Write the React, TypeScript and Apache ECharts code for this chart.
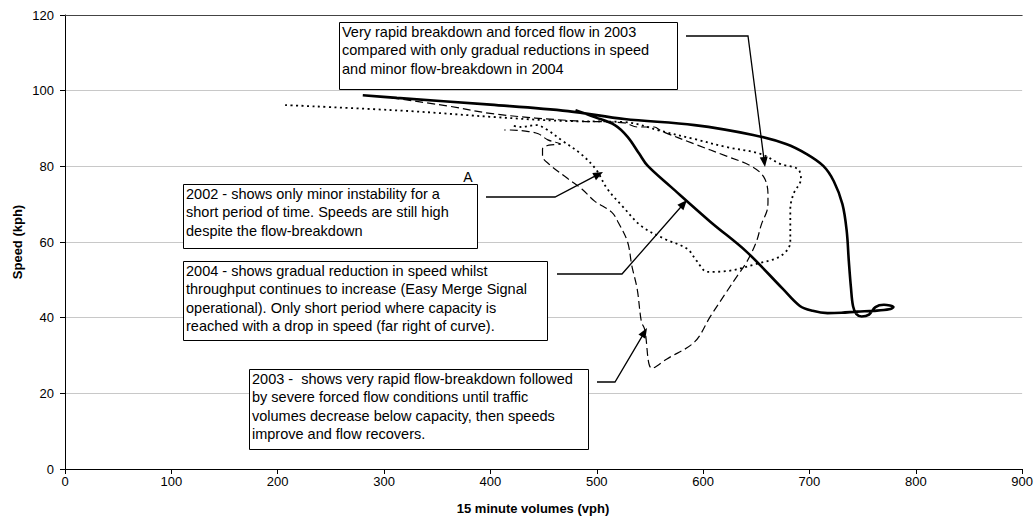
import React, { useEffect, useRef } from "react";
import * as echarts from "echarts";

// ---- Data ----
const xTicks = [0, 100, 200, 300, 400, 500, 600, 700, 800, 900];
const yTicks = [0, 20, 40, 60, 80, 100, 120];

// 2004 - thick solid
const vol2004 = [280, 312, 400, 473, 526, 592, 647, 678, 697, 713, 723, 731, 735, 737, 739, 741, 744, 749, 756, 762, 770, 779, 775, 760, 745, 730, 717, 703, 691, 675, 641, 607, 570, 548, 540, 529, 517, 498, 480];
const spd2004 = [98.8, 98.1, 96.3, 94.6, 92.5, 90.9, 88.3, 85.9, 83.3, 80.1, 76.0, 70.0, 63.0, 55.0, 48.0, 43.0, 41.0, 40.3, 40.8, 42.8, 43.4, 42.8, 42.2, 41.8, 41.6, 41.3, 41.2, 41.8, 43.1, 47.6, 57.4, 65.3, 74.5, 80.1, 83.3, 87.8, 90.9, 93.0, 94.8];

// 2002 - dotted
const vol2002 = [207, 324, 405, 468, 526, 561, 592, 622, 654, 673, 689, 692, 685, 682, 682, 673, 650, 622, 604, 594, 585, 564, 542, 524, 510, 499, 485, 468, 452, 443, 429, 419];
const spd2002 = [96.2, 94.6, 93.0, 92.0, 91.7, 89.3, 87.2, 85.1, 83.3, 80.6, 79.3, 76.7, 72.7, 68.7, 60.0, 56.3, 54.2, 52.3, 52.1, 55.0, 58.2, 60.8, 64.2, 69.5, 74.0, 79.3, 83.3, 86.7, 89.9, 90.9, 90.4, 90.9];

// 2003 - dashed
const vol2003 = [307, 359, 405, 480, 526, 538, 554, 561, 592, 622, 645, 657, 661, 661, 660, 655, 650, 641, 632, 622, 607, 592, 566, 552, 545, 542, 538, 533, 529, 520, 514, 498, 486, 473, 455, 449, 449, 455, 466, 454, 445, 433, 419, 413];
const spd2003 = [98.1, 96.0, 93.8, 92.0, 91.5, 90.4, 90.4, 89.3, 85.9, 82.7, 80.1, 77.2, 72.7, 70.6, 68.2, 64.8, 60.0, 54.7, 51.0, 46.8, 40.4, 33.6, 29.1, 26.6, 37.0, 38.9, 47.6, 53.7, 60.0, 65.3, 67.9, 70.8, 74.0, 76.7, 80.6, 82.7, 84.6, 85.6, 85.9, 87.0, 88.6, 89.3, 89.6, 89.6];

const notes = [
  "Very rapid breakdown and forced flow in 2003\ncompared with only gradual reductions in speed\nand minor flow-breakdown in 2004",
  "2002 - shows only minor instability for a\nshort period of time. Speeds are still high\ndespite the flow-breakdown",
  "2004 - shows gradual reduction in speed whilst\nthroughput continues to increase (Easy Merge Signal\noperational). Only short period where capacity is\nreached with a drop in speed (far right of curve).",
  "2003 -  shows very rapid flow-breakdown followed\nby severe forced flow conditions until traffic\nvolumes decrease below capacity, then speeds\nimprove and flow recovers.",
];

const FONT = "'Liberation Sans', Arial, sans-serif";

function zip(xs: number[], ys: number[]) {
  return xs.map((x, i) => [x, ys[i]]);
}

function box(left: number, top: number, w: number, h: number, text: string) {
  return [
    {
      type: "rect",
      shape: { x: left + 0.5, y: top + 0.5, width: w, height: h },
      style: { fill: "#fff", stroke: "#000", lineWidth: 1 },
      z: 10,
    },
    {
      type: "text",
      x: left + 3,
      y: top + 1,
      style: { text, font: `14.5px ${FONT}`, fill: "#000", lineHeight: 18.3 },
      z: 11,
    },
  ];
}

function arrow(pts: number[][]) {
  const n = pts.length;
  const [tx, ty] = pts[n - 1];
  const [px, py] = pts[n - 2];
  const dx = tx - px, dy = ty - py;
  const len = Math.sqrt(dx * dx + dy * dy);
  const ux = dx / len, uy = dy / len;
  const hl = 10, hw = 4;
  const bx = tx - ux * hl, by = ty - uy * hl;
  const line = pts.slice(0, n - 1).concat([[bx + ux * 2, by + uy * 2]]);
  return [
    {
      type: "polyline",
      shape: { points: line },
      style: { stroke: "#000", lineWidth: 1.3, fill: null },
      z: 12,
    },
    {
      type: "polygon",
      shape: { points: [[tx, ty], [bx - uy * hw, by + ux * hw], [bx + uy * hw, by - ux * hw]] },
      style: { fill: "#000" },
      z: 12,
    },
  ];
}

export default function App() {
  const ref = useRef<HTMLDivElement>(null);
  useEffect(() => {
    document.body.style.margin = "0";
    const chart = echarts.init(ref.current!, null, { renderer: "svg" });
    const axisLabel = { color: "#000", fontSize: 13, fontFamily: FONT };
    chart.setOption({
      animation: false,
      backgroundColor: "#fff",
      grid: { left: 65, right: 5, top: 15, bottom: 55 },
      xAxis: [
        {
          type: "value",
          min: 0,
          max: 900,
          interval: 100,
          axisLine: { show: true, lineStyle: { color: "#000", width: 1 } },
          axisTick: { show: true, inside: false, length: 5, lineStyle: { color: "#000" } },
          axisLabel: { ...axisLabel, margin: 6, formatter: (v: number) => (xTicks.includes(v) ? String(v) : "") },
          splitLine: { show: false },
        },
        {
          type: "value",
          position: "top",
          min: 0,
          max: 900,
          interval: 100,
          axisLine: { show: true, onZero: false, lineStyle: { color: "#444", width: 1 } },
          axisTick: { show: false },
          axisLabel: { show: false },
          splitLine: { show: false },
        },
      ],
      yAxis: {
        type: "value",
        min: 0,
        max: 120,
        interval: 20,
        axisLine: { show: true, lineStyle: { color: "#000", width: 1 } },
        axisTick: { show: true, inside: false, length: 5, lineStyle: { color: "#000" } },
        axisLabel: { ...axisLabel, margin: 11, formatter: (v: number) => (yTicks.includes(v) ? String(v) : "") },
        splitLine: { show: true, lineStyle: { color: "#c8c8c8", width: 1 } },
      },
      series: [
        {
          name: "2002",
          type: "line",
          data: zip(vol2002, spd2002),
          showSymbol: false,
          smooth: 0.35,
          lineStyle: { color: "#000", width: 1.8, type: [2, 3.5], cap: "butt" },
          z: 3,
        },
        {
          name: "2003",
          type: "line",
          data: zip(vol2003, spd2003),
          showSymbol: false,
          smooth: 0.35,
          lineStyle: { color: "#000", width: 1.2, type: [8, 4] },
          z: 4,
        },
        {
          name: "2004",
          type: "line",
          data: zip(vol2004, spd2004),
          showSymbol: false,
          smooth: 0.35,
          lineStyle: { color: "#000", width: 2.6 },
          z: 5,
        },
      ],
      graphic: [
        ...box(339, 22, 338, 67, notes[0]),
        ...box(183, 184, 294, 64, notes[1]),
        ...box(183, 261, 364, 79, notes[2]),
        ...box(249, 369, 339, 80, notes[3]),
        ...arrow([[686, 36], [748, 36], [765, 167]]),
        ...arrow([[486, 197], [555, 197], [603, 172]]),
        ...arrow([[557, 274], [622, 274], [687, 200]]),
        ...arrow([[597, 382], [615, 382], [647, 328]]),
        {
          type: "text",
          x: 468,
          y: 177,
          style: { text: "A", font: `14px ${FONT}`, fill: "#000", align: "center", verticalAlign: "middle" },
          z: 12,
        },
        {
          type: "text",
          x: 533,
          y: 508,
          style: { text: "15 minute volumes (vph)", font: `bold 13px ${FONT}`, fill: "#000", align: "center", verticalAlign: "middle" },
        },
        {
          type: "text",
          x: 17,
          y: 242,
          rotation: Math.PI / 2,
          style: { text: "Speed (kph)", font: `bold 13px ${FONT}`, fill: "#000", align: "center", verticalAlign: "middle" },
        },
      ],
    });
    return () => chart.dispose();
  }, []);
  return <div ref={ref} style={{ width: 1036, height: 524 }} />;
}
